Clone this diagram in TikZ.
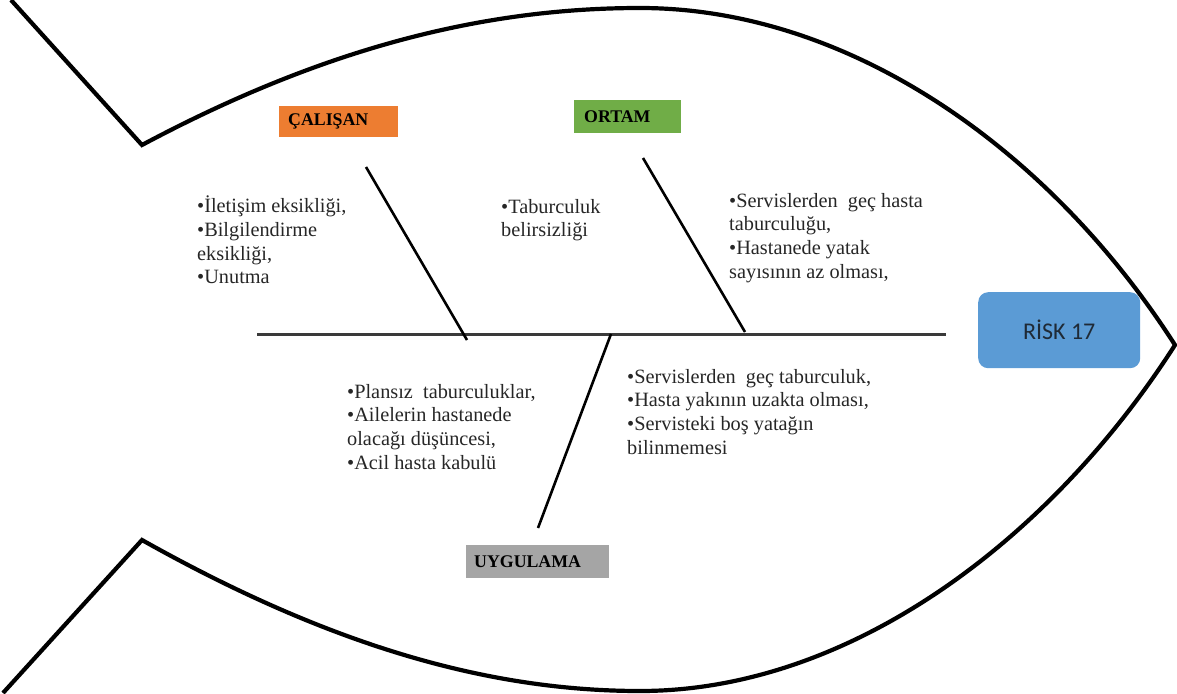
\documentclass[tikz,border=0pt]{standalone}
\usepackage{fontspec}
\setmainfont{Liberation Serif}
\newfontfamily\calibri{Carlito}
\definecolor{catorange}{HTML}{ED7D31}
\definecolor{catgreen}{HTML}{70AD47}
\definecolor{catgray}{HTML}{A5A5A5}
\definecolor{riskblue}{HTML}{5B9BD5}
\definecolor{risktext}{HTML}{1F2A36}
\definecolor{spinegray}{HTML}{3A3A3A}
\tikzset{
  fishline/.style={line width=4.2pt, line join=miter, black},
  bone/.style={line width=2.6pt, black},
  spine/.style={line width=3pt, spinegray},
  catbox/.style={anchor=north west, inner sep=0pt, align=left,
    font=\bfseries\fontsize{17.8}{19}\selectfont, text=black},
  causes/.style={anchor=north west, inner sep=0pt, align=left,
    font=\fontsize{20.3}{23.6}\selectfont, text=black!85},
  riskbox/.style={fill=riskblue, rounded corners=10pt, inner sep=0pt,
    minimum width=162pt, minimum height=76pt, anchor=north west,
    font=\calibri\fontsize{24}{26}\selectfont, text=risktext},
}
\begin{document}
\begin{tikzpicture}[x=1pt, y=-1pt]
  \useasboundingbox (0,0) rectangle (1177,693);

  % fish outline: tail and body
  \coordinate (tailtop) at (11,0);
  \coordinate (tailbot) at (3,693);
  \coordinate (finU) at (142,145);
  \coordinate (finL) at (142,540);
  \coordinate (nose) at (1175,345);
  \draw[fishline] (tailtop) -- (finU)
    .. controls (320,50) and (480,8) .. (640,8)
    .. controls (850,8) and (1050,150) .. (nose)
    .. controls (1050,540) and (850,691) .. (640,691)
    .. controls (480,691) and (320,640) .. (finL) -- (tailbot);

  % spine and bones
  \coordinate (spineL) at (257,334);
  \coordinate (spineR) at (946,334);
  \draw[spine] (spineL) -- (spineR);

  \coordinate (calTop) at (366,167);
  \coordinate (calEnd) at (467,340);
  \coordinate (ortTop) at (643,158);
  \coordinate (ortEnd) at (745,332);
  \coordinate (uygTop) at (611,334);
  \coordinate (uygEnd) at (538,528);
  \draw[bone] (calTop) -- (calEnd);
  \draw[bone] (ortTop) -- (ortEnd);
  \draw[bone] (uygTop) -- (uygEnd);

  % category boxes
  \node[catbox, fill=catorange, text width=119pt, minimum height=31pt] (cal) at (279,106)
    {\hspace*{9pt}ÇALIŞAN};
  \node[catbox, fill=catgreen, text width=107pt, minimum height=33pt] (ort) at (574,100)
    {\hspace*{10pt}ORTAM};
  \node[catbox, fill=catgray, text width=143pt, minimum height=33pt] (uyg) at (466,545)
    {\hspace*{8pt}UYGULAMA};

  % effect
  \node[riskbox] (risk) at (978,292) {RİSK 17};

  % causes
  \node[causes] (calC) at (197,196)
    {•İletişim eksikliği,\\•Bilgilendirme\\eksikliği,\\•Unutma};
  \node[causes] (ortC1) at (501,199)
    {•Taburculuk\\belirsizliği};
  \node[causes] (ortC2) at (729,193)
    {•Servislerden\ \ geç hasta\\taburculuğu,\\•Hastanede yatak\\sayısının az olması,};
  \node[causes] (uygC1) at (347,384)
    {•Plansız\ \ taburculuklar,\\•Ailelerin hastanede\\olacağı düşüncesi,\\•Acil hasta kabulü};
  \node[causes] (uygC2) at (627,369)
    {•Servislerden\ \ geç taburculuk,\\•Hasta yakının uzakta olması,\\•Servisteki boş yatağın\\bilinmemesi};
\end{tikzpicture}
\end{document}
